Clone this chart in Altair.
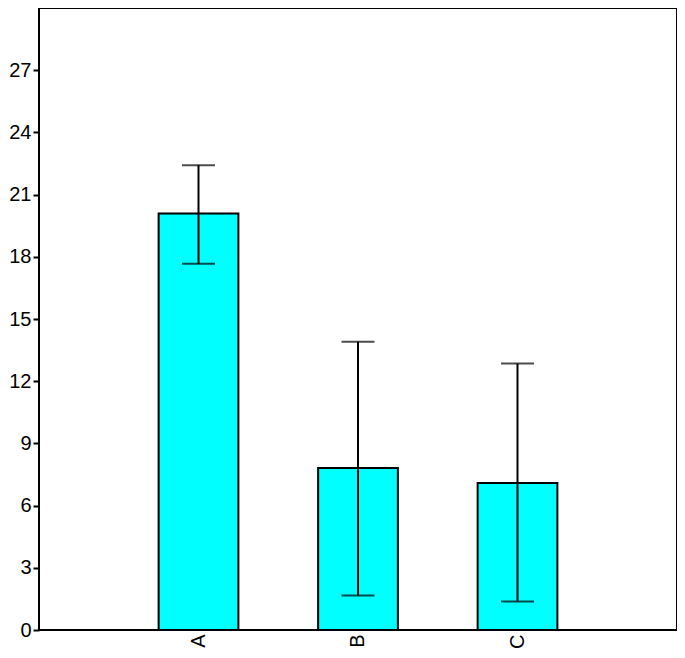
import altair as alt
import pandas as pd

categories = ["A", "B", "C"]
means = [20.09, 7.81, 7.09]
err_low = [17.66, 1.67, 1.38]
err_high = [22.42, 13.90, 12.85]

df = pd.DataFrame({"cat": categories, "mean": means, "lo": err_low, "hi": err_high})

FONT = "Liberation Sans"

x = alt.X("cat:N", sort=categories, title=None,
          scale=alt.Scale(paddingInner=0.5, paddingOuter=0.75),
          axis=alt.Axis(labelAngle=-90, ticks=False, domain=False, labelFont=FONT,
                        labelFontSize=20, labelColor="black", labelPadding=4,
                        labelBaseline="middle", labelAlign="right"))

y = alt.Y("mean:Q", title=None,
          scale=alt.Scale(domain=[0, 30], nice=False),
          axis=alt.Axis(values=list(range(0, 28, 3)), grid=False, tickSize=6, tickWidth=2,
                        tickColor="black", domain=False, labelFont=FONT, labelFontSize=20,
                        labelColor="black", labelPadding=2))

base = alt.Chart(df)

bars = base.mark_bar(color="#00FFFF", stroke="black", strokeWidth=2).encode(x=x, y=y)

rules = base.mark_rule(color="black", strokeWidth=2).encode(
    x=alt.X("cat:N", sort=categories), y=alt.Y("lo:Q"), y2="hi:Q")

cap_lo = base.mark_tick(color="black", thickness=2, size=33, orient="horizontal").encode(
    x=alt.X("cat:N", sort=categories), y=alt.Y("lo:Q"))
cap_hi = base.mark_tick(color="black", thickness=2, size=33, orient="horizontal").encode(
    x=alt.X("cat:N", sort=categories), y=alt.Y("hi:Q"))

chart = alt.layer(bars, rules, cap_lo, cap_hi).properties(
    width=638, height=622, background="white",
    padding={"left": 0, "top": 0, "right": 0, "bottom": 0}
).configure_view(stroke="black", strokeWidth=2)

chart.save("out.html", embed_options={"renderer": "svg", "actions": False})
